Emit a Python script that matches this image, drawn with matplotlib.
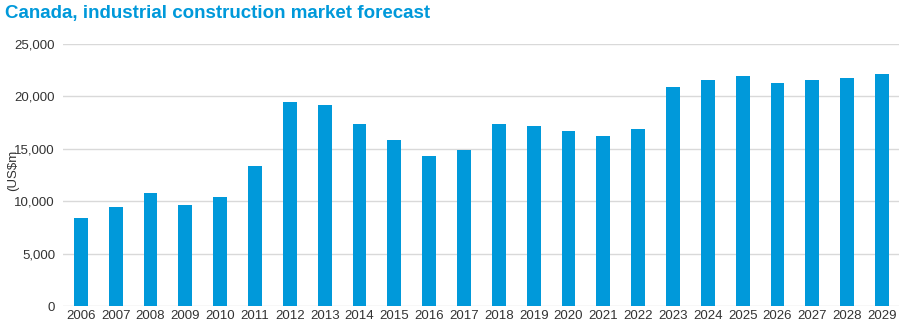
import matplotlib
matplotlib.use('Agg')
import matplotlib.pyplot as plt
from matplotlib.ticker import FuncFormatter

years = [str(y) for y in range(2006, 2030)]
values = [8420, 9430, 10820, 9650, 10440, 13340, 19430, 19150, 17410, 15800,
          14290, 14890, 17410, 17190, 16690, 16240, 16910, 20880, 21540, 21980,
          21320, 21540, 21760, 22110]

blue = '#0099da'
grid_col = '#d9d9d9'
text_col = '#333333'

fig = plt.figure(figsize=(9.03, 3.34), dpi=100)
ax = fig.add_axes([0.0702, 0.0838, 0.9258, 0.7842])

ax.bar(range(len(years)), values, width=0.4, color=blue, zorder=3)

ax.set_xlim(-0.5, len(years) - 0.5)
ax.set_ylim(0, 25000)
ax.set_yticks(range(0, 25001, 5000))
ax.yaxis.set_major_formatter(FuncFormatter(lambda v, p: '{:,.0f}'.format(v)))
ax.set_xticks(range(len(years)))
ax.set_xticklabels(years)

ax.grid(axis='y', color=grid_col, linewidth=1, zorder=0)
for s in ax.spines.values():
    s.set_visible(False)
ax.tick_params(length=0, labelsize=9.5, labelcolor=text_col)
ax.tick_params(axis='y', pad=6)
ax.tick_params(axis='x', pad=3)
for lab in ax.get_xticklabels() + ax.get_yticklabels():
    lab.set_family('Liberation Sans')

# y label sits at the far left edge
fig.text(0.014, 0.49, '(US$m', fontsize=9.5, color=text_col, family='Liberation Sans',
         rotation=90, ha='center', va='center')

fig.text(0.005, 0.985, 'Canada, industrial construction market forecast',
         fontsize=13.5, fontweight='bold', color=blue, va='top', ha='left',
         family='Liberation Sans')

fig.savefig('out.png', dpi=100)
